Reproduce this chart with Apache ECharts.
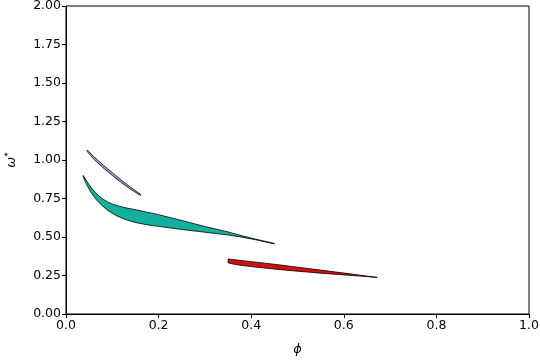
<!DOCTYPE html>
<html><head><meta charset="utf-8">
<script src="https://cdn.jsdelivr.net/npm/echarts@6/dist/echarts.min.js"></script>
<style>html,body{margin:0;padding:0;background:#fff}#c{width:540px;height:360px}</style>
</head><body><div id="c"></div>
<script>
// Region boundaries (phi, omega*)
const lavenderUpper = [[0.046,1.065],[0.06,1.022],[0.08,0.968],[0.10,0.918],[0.12,0.868],[0.14,0.822],[0.161,0.777]];
const lavenderLower = [[0.046,1.055],[0.06,1.005],[0.08,0.950],[0.10,0.900],[0.12,0.852],[0.14,0.809],[0.161,0.770]];
const tealUpper = [[0.037,0.900],[0.045,0.862],[0.055,0.818],[0.065,0.783],[0.077,0.752],[0.09,0.727],[0.10,0.714],[0.115,0.700],[0.127,0.691],[0.145,0.680],[0.16,0.671],[0.20,0.645],[0.25,0.607],[0.30,0.568],[0.35,0.533],[0.38,0.508],[0.41,0.486],[0.45,0.458]];
const tealLower = [[0.037,0.890],[0.045,0.838],[0.055,0.785],[0.065,0.744],[0.077,0.706],[0.091,0.671],[0.11,0.637],[0.127,0.615],[0.145,0.598],[0.16,0.588],[0.18,0.577],[0.20,0.569],[0.25,0.549],[0.30,0.531],[0.35,0.513],[0.38,0.499],[0.41,0.482],[0.45,0.455]];
const redUpper = [[0.35,0.357],[0.40,0.340],[0.45,0.323],[0.50,0.304],[0.55,0.285],[0.60,0.266],[0.65,0.246],[0.672,0.238]];
const redLower = [[0.35,0.333],[0.36,0.325],[0.375,0.317],[0.40,0.308],[0.43,0.298],[0.46,0.289],[0.50,0.278],[0.55,0.265],[0.60,0.254],[0.65,0.243],[0.672,0.237]];
const xTicks = [0, 0.2, 0.4, 0.6, 0.8, 1.0];
const yTicks = [0, 0.25, 0.5, 0.75, 1.0, 1.25, 1.5, 1.75, 2.0];

function region(upper, lower, color) {
  const pts = upper.concat(lower.slice().reverse());
  return {
    type: 'custom',
    data: pts,
    encode: {x: 0, y: 1},
    renderItem: function (params, api) {
      if (params.dataIndex !== 0) return null;
      return {
        type: 'polygon',
        shape: {points: pts.map(p => api.coord(p))},
        style: {fill: color, stroke: '#000', lineWidth: 0.8}
      };
    }
  };
}
const font = 'DejaVu Sans';
const chart = echarts.init(document.getElementById('c'), null, {renderer: 'canvas'});
chart.setOption({
  animation: false,
  grid: {left: 66, right: 11, top: 6, bottom: 46, containLabel: false, outerBoundsMode: 'none', show: true, borderColor: '#000', borderWidth: 1, backgroundColor: 'transparent'},
  xAxis: {
    type: 'value', min: 0, max: 1, interval: 0.2,
    name: 'ϕ', nameLocation: 'middle', nameGap: 29,
    nameTextStyle: {fontFamily: font, fontSize: 13, fontStyle: 'italic', color: '#000'},
    axisLine: {show: true, lineStyle: {color: '#000', width: 1}},
    axisTick: {show: true, inside: false, length: 4, lineStyle: {color: '#000'}},
    axisLabel: {fontFamily: font, fontSize: 12.5, color: '#000', margin: 5, formatter: v => v.toFixed(1)},
    splitLine: {show: false}
  },
  yAxis: {
    type: 'value', min: 0, max: 2, interval: 0.25,
    name: '{a|ω}{b|*}', nameLocation: 'middle', nameGap: 47,
    nameTextStyle: {fontFamily: font, color: '#000', rich: {a: {fontFamily: font, fontSize: 13, fontStyle: 'italic', color: '#000'}, b: {fontFamily: font, fontSize: 9, color: '#000', verticalAlign: 'top', padding: [0,0,6,0]}}},
    axisLine: {show: true, lineStyle: {color: '#000', width: 1}},
    axisTick: {show: true, inside: false, length: 4, lineStyle: {color: '#000'}},
    axisLabel: {fontFamily: font, fontSize: 12.5, color: '#000', margin: 5, formatter: v => v.toFixed(2)},
    splitLine: {show: false}
  },
  series: [
    region(lavenderUpper, lavenderLower, '#a3a3d6'),
    region(tealUpper, tealLower, '#14b09e'),
    region(redUpper, redLower, '#d41010')
  ]
});
</script></body></html>
